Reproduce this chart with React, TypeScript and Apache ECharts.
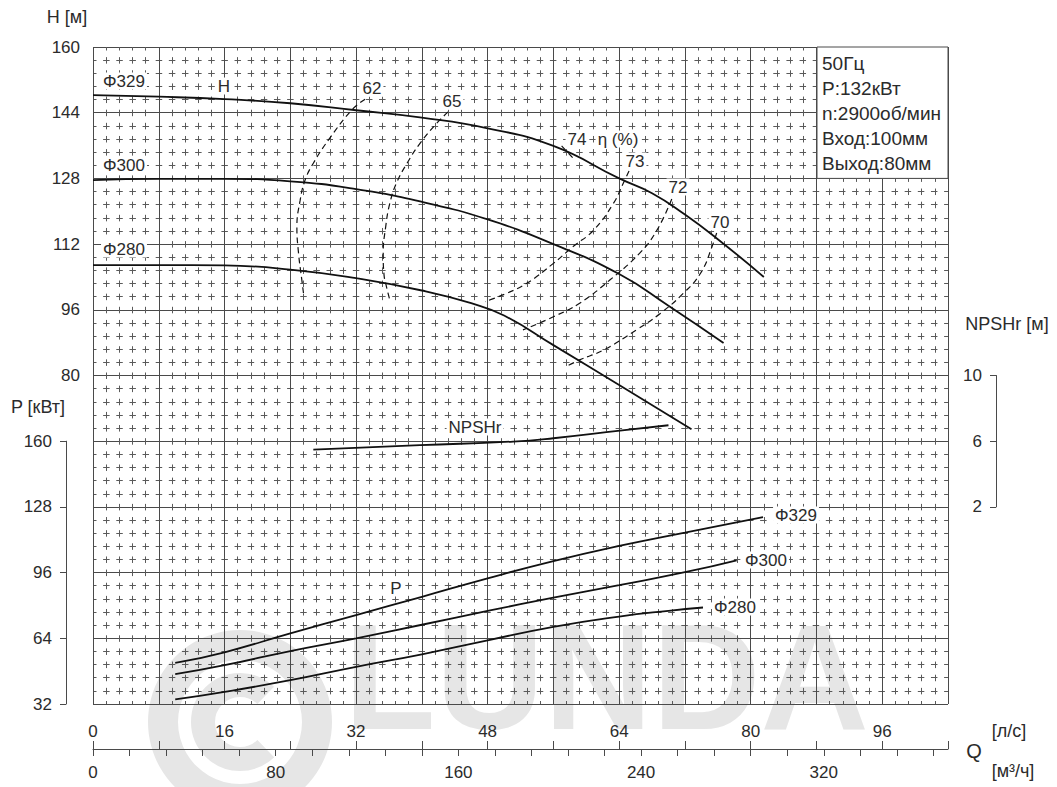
import React, { useEffect, useRef } from "react";
import * as echarts from "echarts";

// ---------- data (Q in l/s) ----------
const qMaxLs = 104;
const qMaxM3h = 374.4;
const lsLabelValues = [0, 16, 32, 48, 64, 80, 96];
const m3hLabelValues = [0, 80, 160, 240, 320];
const m3hTickValues = [0, 16, 32, 48, 64, 80, 96, 112, 128, 144, 160, 176, 192, 208, 224, 240, 256, 272, 288, 304, 320, 336, 352, 368];
const hLabelValues = [80, 96, 112, 128, 144, 160];
const pLabelValues = [32, 64, 96, 128, 160];
const npshLabelValues = [2, 6, 10];

const h329 = [[0, 148.3], [8, 147.9], [16, 147.3], [24, 146.3], [32, 144.6], [40, 142.8], [48, 140.2], [56, 135.9], [64, 128.0], [68, 124.4], [72, 119.2], [76, 113.2], [81.6, 104.0]];
const h300 = [[0, 127.6], [8, 127.9], [16, 127.9], [24, 127.3], [32, 125.4], [40, 122.3], [48, 118.0], [56, 112.0], [64, 104.7], [70, 97.0], [76.7, 87.9]];
const h280 = [[0, 106.9], [8, 106.9], [16, 106.8], [24, 105.8], [32, 103.7], [40, 100.7], [46, 97.6], [50, 94.6], [56, 87.4], [64, 77.7], [72.8, 66.9]];

const eff62 = [[33.1, 147.3], [31.5, 144.7], [28.8, 137.8], [26.8, 131.7], [25.8, 127.6], [25.2, 122.7], [24.8, 116.2], [25.0, 109.8], [25.4, 103.3], [25.6, 100.1]];
const eff65 = [[43.2, 144.2], [41.8, 141.4], [39.8, 136.6], [38.2, 131.7], [36.9, 126.8], [36.1, 121.9], [35.6, 116.2], [35.3, 109.8], [35.4, 104.5], [35.7, 101.6], [36.1, 98.4]];
const eff74 = [[57.0, 135.9], [58.6, 132.5]];
const eff73 = [[65.2, 129.8], [64.5, 126.8], [63.3, 121.9], [60.9, 115.4], [58.4, 111.4], [56.0, 107.3], [52.8, 102.5], [50.3, 100.0], [47.7, 98.0]];
const eff72 = [[70.4, 123.0], [68.6, 115.4], [66.5, 109.8], [62.9, 103.3], [59.2, 97.6], [56.0, 94.3], [52.3, 91.1]];
const eff70 = [[76.2, 117.0], [75.3, 111.4], [73.9, 104.9], [71.8, 100.0], [69.0, 95.1], [66.1, 91.1], [62.1, 86.2], [59.2, 83.8], [57.6, 82.2]];

const npsh = [[26.8, 5.49], [39.8, 5.76], [51.1, 5.98], [56.0, 6.18], [64.1, 6.64], [70.0, 6.97]];

const p329 = [[10, 52.0], [16, 57.2], [24, 66.4], [32, 75.3], [40, 84.2], [48, 93.2], [56, 101.6], [64, 109.0], [72, 115.5], [81.5, 123.0]];
const p300 = [[10, 46.5], [16, 50.9], [24, 57.8], [32, 64.0], [40, 70.6], [48, 77.3], [56, 83.8], [64, 89.9], [72, 96.2], [78.3, 102.0]];
const p280 = [[10, 34.2], [16, 37.9], [24, 43.6], [32, 50.1], [40, 56.2], [48, 63.0], [56, 69.6], [64, 74.6], [70, 77.4], [74.2, 79.0]];

const infoLines = ["50Гц", "P:132кВт", "n:2900об/мин", "Вход:100мм", "Выход:80мм"];

// ---------- layout ----------
const FONT = "'Liberation Sans', Arial, Helvetica, sans-serif";
const TXT = "#2b2b2b";
const GRID_L = 93;
const GRID_T = 47;
const GRID_W = 855;
const GRID_H = 657;
const ROW = GRID_H / 10;
const MAJOR = "#4a4a4a";
const MINOR = "#5a5a5a";

function App() {
  const ref = useRef<HTMLDivElement>(null);

  useEffect(() => {
    if (!ref.current) return;
    const chart = echarts.init(ref.current, undefined, { renderer: "svg" });

    const minorStyle = { color: MINOR, width: 1, type: [6.5, 6.64] as any, dashOffset: 3.25 };
    const labelStyle = { fontSize: 17, color: TXT, fontFamily: FONT };

    const solid = (name: string, data: number[][], xi: number, yi: number) => ({
      type: "line",
      name,
      data,
      xAxisIndex: xi,
      yAxisIndex: yi,
      smooth: 0.5,
      symbol: "none",
      silent: true,
      z: 5,
      lineStyle: { color: "#111", width: 1.8 },
    });
    const dashed = (name: string, data: number[][]) => ({
      type: "line",
      name,
      data,
      xAxisIndex: 0,
      yAxisIndex: 0,
      smooth: 0.45,
      symbol: "none",
      silent: true,
      z: 4,
      lineStyle: { color: "#111", width: 1.2, type: [6, 4] as any },
    });

    const txt = (text: string, x: number, y: number, opts: any = {}) => ({
      type: "text",
      x,
      y,
      z: 20,
      silent: true,
      style: {
        text,
        fill: TXT,
        font: `${opts.size || 17}px ${FONT}`,
        align: opts.align || "center",
        verticalAlign: "middle",
        backgroundColor: opts.bg === false ? undefined : "#fff",
        padding: opts.bg === false ? 0 : [0, 2],
      },
    });

    const wm = "#e6e6e6";
    const graphics: any[] = [
      // watermark
      { type: "ring", z: -10, silent: true, shape: { cx: 240, cy: 722, r: 92, r0: 62 }, style: { fill: wm } },
      { type: "arc", z: -10, silent: true, shape: { cx: 240, cy: 722, r: 37, startAngle: 0.8, endAngle: 5.48, clockwise: true }, style: { stroke: wm, lineWidth: 24, fill: "none" } },
      { type: "text", z: -10, silent: true, x: 344, y: 752, scaleX: 1.0, style: { text: "LUNDA", fill: wm, font: `bold 150px ${FONT}`, align: "left", verticalAlign: "bottom" } },
      // info box
      { type: "rect", z: 15, silent: true, shape: { x: 817, y: GRID_T, width: GRID_L + GRID_W - 817, height: 2 * ROW }, style: { fill: "#fff", stroke: MAJOR, lineWidth: 1 } },
      ...infoLines.map((s, i) => txt(s, 822, 63 + i * 25, { align: "left", size: 19, bg: false })),
      // axis names
      txt("H [м]", 67, 17, { bg: false, size: 18 }),
      txt("P [кВт]", 38, 407, { bg: false, size: 18 }),
      txt("NPSHr [м]", 1007, 324, { bg: false, size: 18 }),
      txt("[л/с]", 1009, 731, { bg: false, size: 18 }),
      txt("Q", 974, 751, { bg: false, size: 20 }),
      txt("[м³/ч]", 1013, 771, { bg: false, size: 18 }),
      // curve annotations
      txt("Φ329", 124, 81),
      txt("Φ300", 124, 165),
      txt("Φ280", 124, 249),
      txt("H", 224, 86),
      txt("62", 372, 88),
      txt("65", 452, 101),
      txt("74", 577, 139),
      txt("η (%)", 618, 139),
      txt("73", 635, 161),
      txt("72", 678, 187),
      txt("70", 720, 222),
      txt("NPSHr", 475, 427),
      txt("P", 396, 588),
      txt("Φ329", 796, 515),
      txt("Φ300", 766, 560),
      txt("Φ280", 735, 607),
    ];

    const option: any = {
      animation: false,
      backgroundColor: "#fff",
      textStyle: { fontFamily: FONT },
      grid: [
        { left: GRID_L, top: GRID_T, width: GRID_W, height: GRID_H, containLabel: false },
        { left: GRID_L, top: GRID_T + 6 * ROW, width: GRID_W, height: 4 * ROW, containLabel: false },
        { left: GRID_L, top: GRID_T + 5 * ROW, width: GRID_W, height: 2 * ROW, containLabel: false },
      ],
      xAxis: [
        {
          type: "value",
          gridIndex: 0,
          min: 0,
          max: qMaxLs,
          interval: 8,
          position: "bottom",
          offset: 45,
          axisLine: { show: true, onZero: false, lineStyle: { color: MAJOR, width: 1 } },
          axisTick: { show: true, inside: true, length: 8, lineStyle: { color: MAJOR } },
          axisLabel: {
            ...labelStyle,
            inside: true,
            margin: 9,
            formatter: (v: number) => (lsLabelValues.includes(v) ? String(v) : ""),
          },
          splitLine: { show: true, lineStyle: { color: MAJOR, width: 1 } },
          minorTick: { show: false, splitNumber: 5 },
          minorSplitLine: { show: true, lineStyle: minorStyle },
        },
        {
          type: "value",
          gridIndex: 0,
          min: 0,
          max: qMaxM3h,
          interval: 16,
          position: "bottom",
          offset: 45,
          axisLine: { show: false, onZero: false },
          axisTick: { show: true, length: 7, lineStyle: { color: MAJOR }, customValues: m3hTickValues },
          axisLabel: {
            ...labelStyle,
            margin: 15,
            customValues: m3hLabelValues,
            formatter: (v: number) => (m3hLabelValues.includes(v) ? String(v) : ""),
          },
          splitLine: { show: false },
        },
        { type: "value", gridIndex: 1, min: 0, max: qMaxLs, show: false },
        { type: "value", gridIndex: 2, min: 0, max: qMaxLs, show: false },
      ],
      yAxis: [
        {
          type: "value",
          gridIndex: 0,
          min: 0,
          max: 160,
          interval: 16,
          position: "left",
          axisLine: { show: false },
          axisTick: { show: false },
          axisLabel: {
            ...labelStyle,
            margin: 13,
            formatter: (v: number) => (hLabelValues.includes(v) ? String(v) : ""),
          },
          splitLine: { show: true, lineStyle: { color: MAJOR, width: 1 } },
          minorTick: { show: false, splitNumber: 5 },
          minorSplitLine: { show: true, lineStyle: minorStyle },
        },
        {
          type: "value",
          gridIndex: 1,
          min: 32,
          max: 160,
          interval: 32,
          position: "left",
          offset: 27,
          axisLine: { show: true, onZero: false, lineStyle: { color: MAJOR, width: 1 } },
          axisTick: { show: true, length: 6, lineStyle: { color: MAJOR } },
          axisLabel: {
            ...labelStyle,
            margin: 14,
            formatter: (v: number) => (pLabelValues.includes(v) ? String(v) : ""),
          },
          splitLine: { show: false },
        },
        {
          type: "value",
          gridIndex: 2,
          min: 2,
          max: 10,
          interval: 4,
          position: "right",
          offset: 48,
          axisLine: { show: true, onZero: false, lineStyle: { color: MAJOR, width: 1 } },
          axisTick: { show: true, inside: true, length: 6, lineStyle: { color: MAJOR } },
          axisLabel: {
            ...labelStyle,
            inside: true,
            margin: 14,
            formatter: (v: number) => (npshLabelValues.includes(v) ? String(v) : ""),
          },
          splitLine: { show: false },
        },
      ],
      graphic: { elements: graphics },
      series: [
        solid("H Φ329", h329, 0, 0),
        solid("H Φ300", h300, 0, 0),
        solid("H Φ280", h280, 0, 0),
        dashed("η 62", eff62),
        dashed("η 65", eff65),
        dashed("η 74", eff74),
        dashed("η 73", eff73),
        dashed("η 72", eff72),
        dashed("η 70", eff70),
        solid("NPSHr", npsh, 3, 2),
        solid("P Φ329", p329, 2, 1),
        solid("P Φ300", p300, 2, 1),
        solid("P Φ280", p280, 2, 1),
      ],
    };

    chart.setOption(option);
    return () => chart.dispose();
  }, []);

  return (
    <div
      ref={ref}
      style={{ position: "absolute", left: 0, top: 0, width: 1057, height: 787, background: "#fff" }}
    />
  );
}

export default App;
